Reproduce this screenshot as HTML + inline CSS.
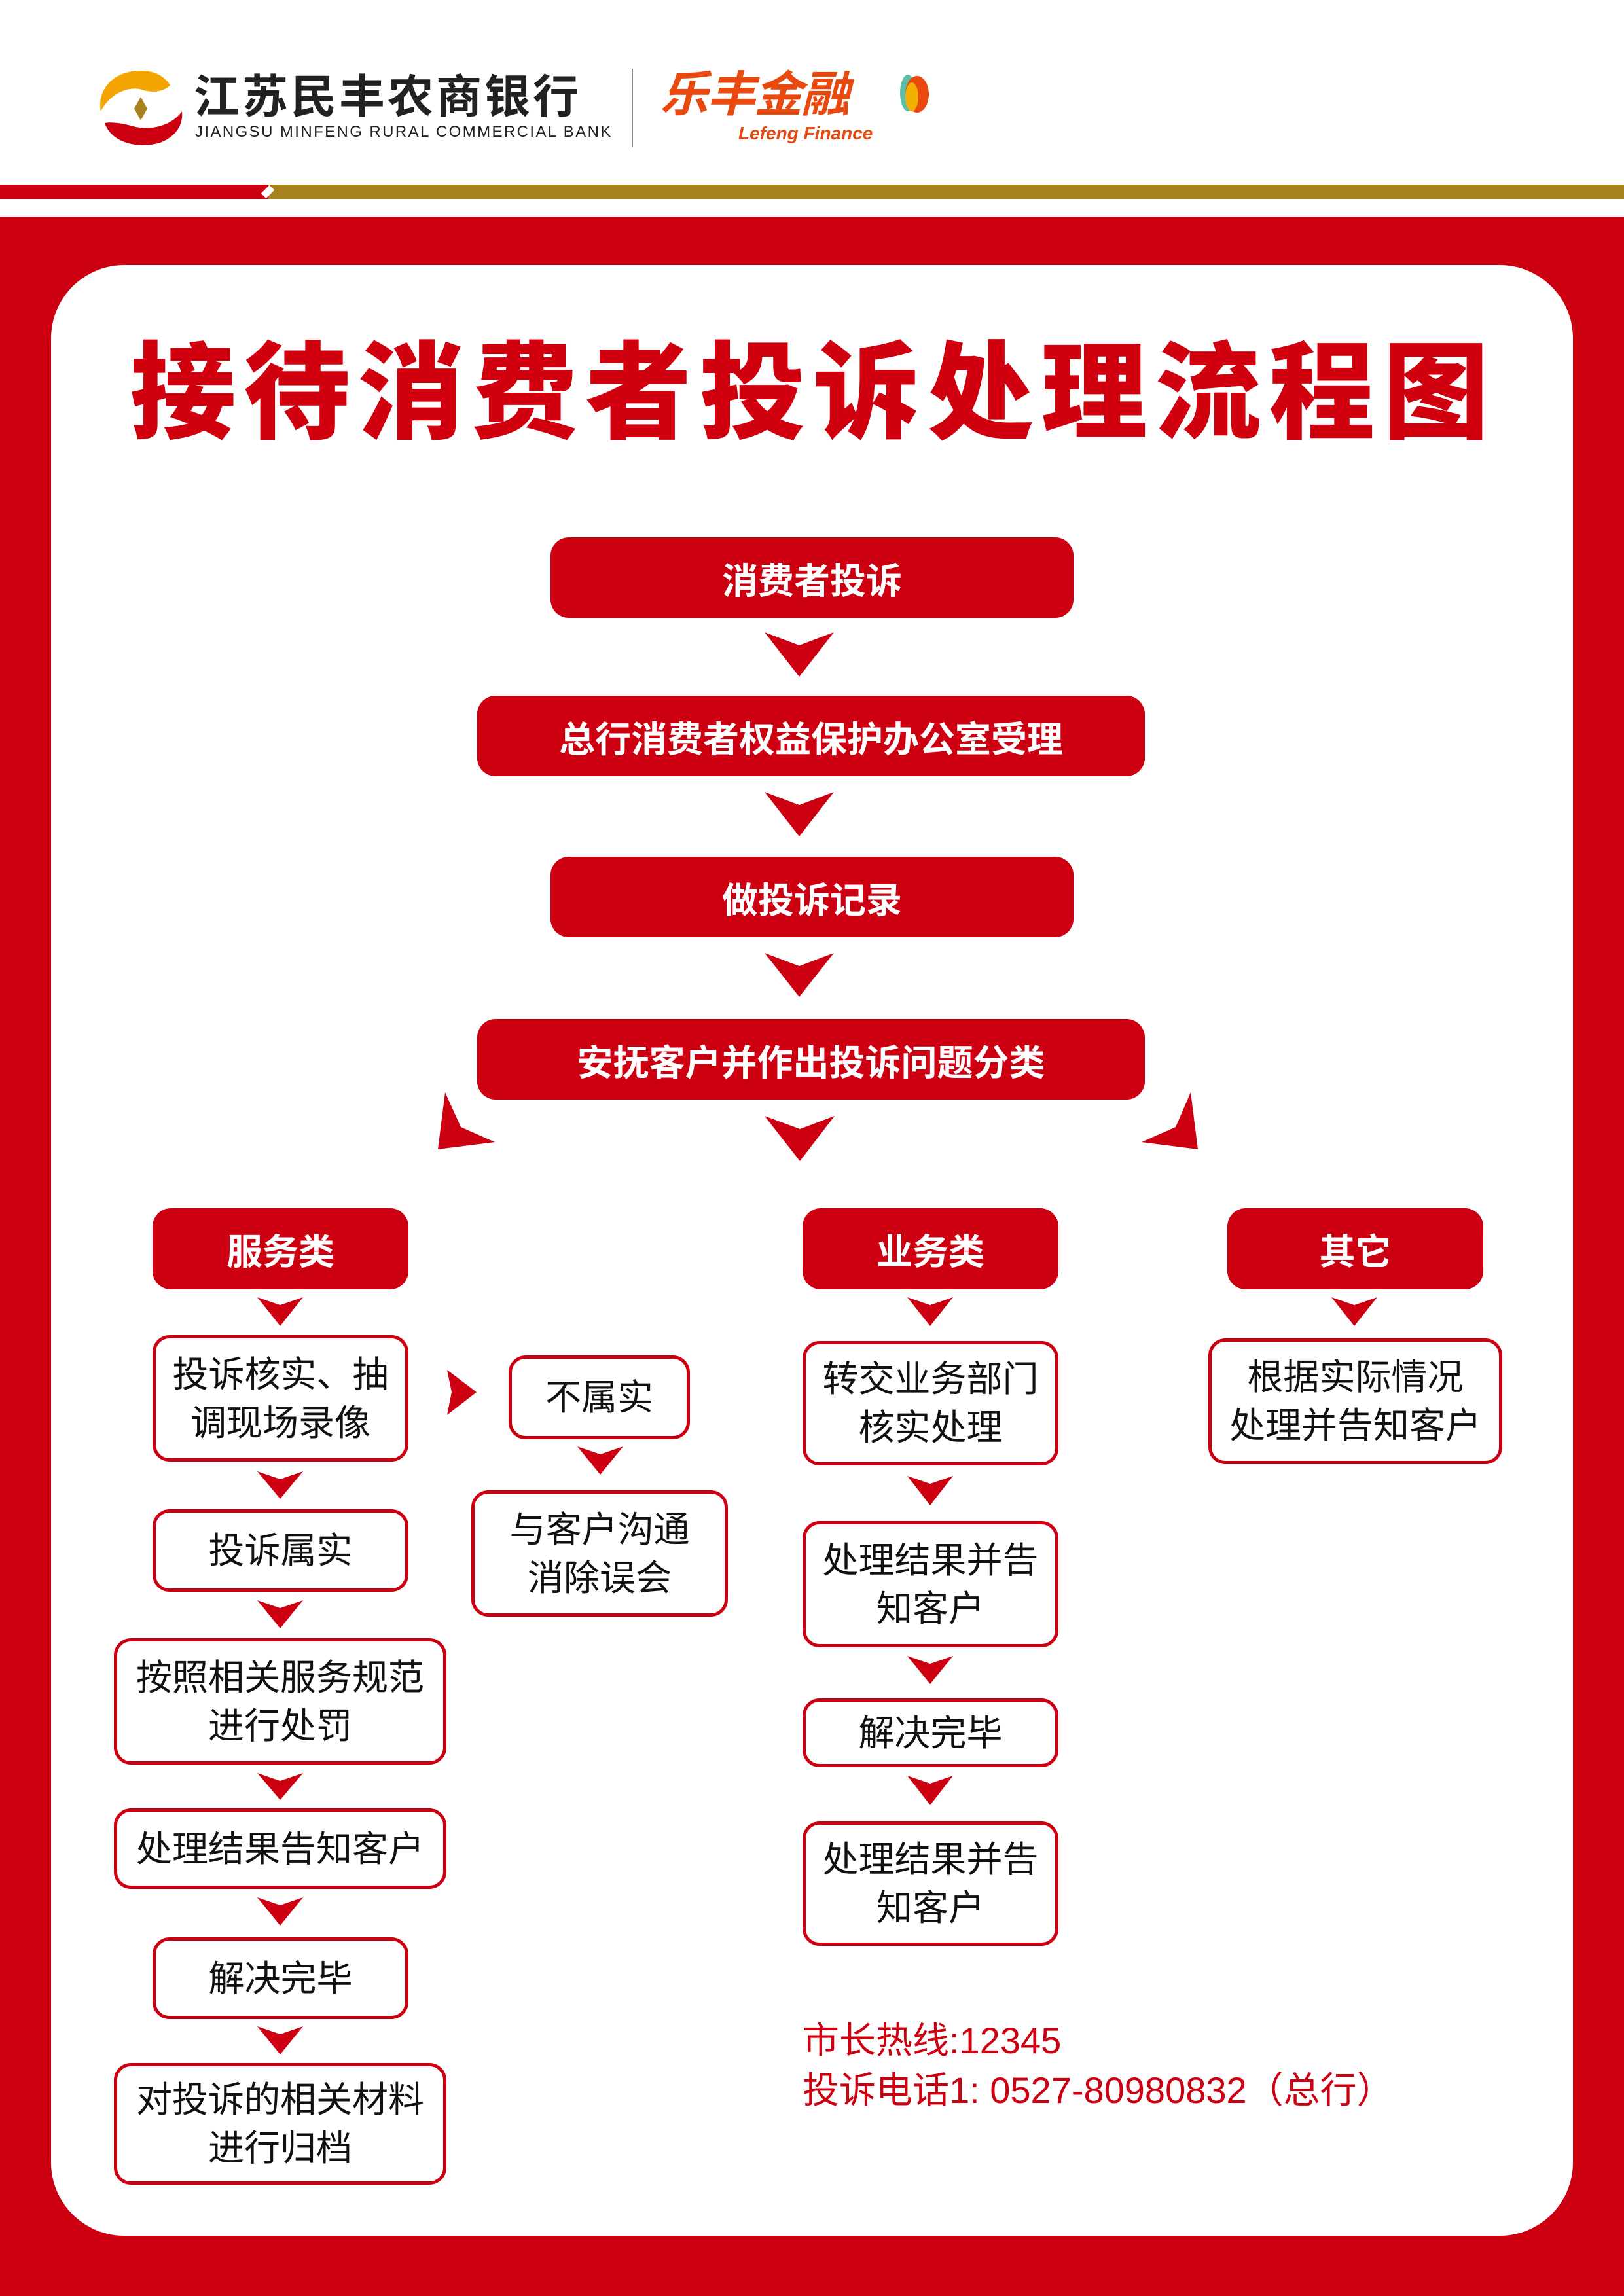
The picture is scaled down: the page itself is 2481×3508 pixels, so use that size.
<!DOCTYPE html>
<html><head><meta charset="utf-8"><style>
*{margin:0;padding:0;box-sizing:border-box}
body{width:2481px;height:3508px;position:relative;background:#fff;overflow:hidden;font-family:"Liberation Sans","Noto Sans CJK SC",sans-serif}
.a{position:absolute}
.f{position:absolute;background:#cc0011;border-radius:28px;color:#fff;font-weight:bold;font-size:55px;display:flex;align-items:center;justify-content:center;text-align:center}
.w{position:absolute;background:#fff;border:5px solid #cc0011;border-radius:26px;color:#111;font-size:55px;line-height:74px;display:flex;align-items:center;justify-content:center;text-align:center}
</style></head><body>
<!-- header -->
<svg class="a" style="left:140px;top:100px" width="150" height="130" viewBox="0 0 150 130">
<path d="M75 8 C30 8 8 40 14 70 C30 40 60 30 80 38 C95 42 110 40 120 30 C110 15 95 8 75 8Z" fill="#f3a400"/>
<path d="M20 88 C30 118 70 128 105 118 C130 108 140 90 138 70 C120 95 85 100 60 92 C45 88 30 86 20 88Z" fill="#cc0011"/>
<path d="M75 48 L85 66 L75 84 L65 66Z" fill="#a8821f"/>
</svg>
<div class="a" style="left:296px;top:104px;font-size:70px;color:#222;font-weight:bold;letter-spacing:4px;line-height:88px">江苏民丰农商银行</div>
<div class="a" style="left:298px;top:188px;font-size:24px;color:#222;letter-spacing:2.4px;white-space:nowrap">JIANGSU MINFENG RURAL COMMERCIAL BANK</div>
<div class="a" style="left:965px;top:105px;width:2px;height:120px;background:#888"></div>
<div class="a" style="left:1008px;top:100px;font-size:74px;color:#e8490f;font-weight:bold;font-style:italic;line-height:90px;letter-spacing:-2px">乐丰金融</div>
<div class="a" style="left:1128px;top:188px;font-size:28px;color:#e8490f;font-weight:bold;font-style:italic">Lefeng Finance</div>
<svg class="a" style="left:1365px;top:112px" width="60" height="62"><ellipse cx="22" cy="30" rx="12" ry="28" fill="#5dbfa8"/><ellipse cx="36" cy="32" rx="18" ry="28" fill="#e8490f"/><ellipse cx="28" cy="36" rx="10" ry="22" fill="#f3b000"/></svg>
<div class="a" style="left:0;top:282px;width:410px;height:22px;background:#cc0011"></div>
<div class="a" style="left:410px;top:282px;width:2071px;height:22px;background:#a8821f"></div>
<div class="a" style="left:400px;top:284px;width:18px;height:18px;background:#fff;transform:rotate(45deg) scale(0.6,1)"></div>
<div class="a" style="left:0;top:331px;width:2481px;height:3177px;background:#cc0011"></div>
<div class="a" style="left:78px;top:405px;width:2325px;height:3011px;background:#fff;border-radius:112px"></div>
<div class="a" style="left:180px;top:512px;width:2125px;text-align:center;font-size:162px;font-weight:900;color:#d0000f;letter-spacing:12px;line-height:180px;white-space:nowrap">接待消费者投诉处理流程图</div>

<div class="f" style="left:841px;top:821px;width:799px;height:123px">消费者投诉</div>
<div class="f" style="left:729px;top:1063px;width:1020px;height:123px">总行消费者权益保护办公室受理</div>
<div class="f" style="left:841px;top:1309px;width:799px;height:123px">做投诉记录</div>
<div class="f" style="left:729px;top:1557px;width:1020px;height:123px">安抚客户并作出投诉问题分类</div>

<div class="f" style="left:233px;top:1846px;width:391px;height:124px">服务类</div>
<div class="f" style="left:1226px;top:1846px;width:391px;height:124px">业务类</div>
<div class="f" style="left:1875px;top:1846px;width:391px;height:124px">其它</div>

<div class="w" style="left:233px;top:2040px;width:391px;height:193px">投诉核实、抽<br>调现场录像</div>
<div class="w" style="left:233px;top:2306px;width:391px;height:126px">投诉属实</div>
<div class="w" style="left:174px;top:2503px;width:508px;height:193px">按照相关服务规范<br>进行处罚</div>
<div class="w" style="left:174px;top:2763px;width:508px;height:123px">处理结果告知客户</div>
<div class="w" style="left:233px;top:2960px;width:391px;height:125px">解决完毕</div>
<div class="w" style="left:174px;top:3152px;width:508px;height:186px">对投诉的相关材料<br>进行归档</div>

<div class="w" style="left:777px;top:2071px;width:277px;height:128px">不属实</div>
<div class="w" style="left:720px;top:2277px;width:392px;height:193px">与客户沟通<br>消除误会</div>

<div class="w" style="left:1226px;top:2049px;width:391px;height:190px">转交业务部门<br>核实处理</div>
<div class="w" style="left:1226px;top:2324px;width:391px;height:193px">处理结果并告<br>知客户</div>
<div class="w" style="left:1226px;top:2595px;width:391px;height:105px">解决完毕</div>
<div class="w" style="left:1226px;top:2783px;width:391px;height:190px">处理结果并告<br>知客户</div>

<div class="w" style="left:1846px;top:2045px;width:449px;height:192px">根据实际情况<br>处理并告知客户</div>

<div class="a" style="left:1226px;top:3080px;font-size:56px;color:#cc0011;line-height:76px;white-space:nowrap">市长热线:12345<br>投诉电话1: 0527-80980832（总行）</div>

<svg class="a" style="left:0;top:0" width="2481" height="3508">
<g fill="#cc0011">
<polygon points="1168,966 1221,986 1274,966 1221,1034"/>
<polygon points="1168,1210 1221,1230 1274,1210 1221,1278"/>
<polygon points="1168,1456 1221,1476 1274,1456 1221,1523"/>
<polygon points="1168,1705 1222,1725 1275,1705 1222,1774"/>
<polygon points="680,1669 704,1722 756,1745 669,1756"/>
<polygon points="1819,1669 1796,1722 1744,1745 1830,1756"/>
<polygon points="393,1982 428,1994 463,1982 428,2026"/>
<polygon points="1386,1982 1421,1994 1456,1982 1421,2026"/>
<polygon points="2034,1982 2069,1994 2104,1982 2069,2026"/>
<polygon points="393,2248 428,2260 463,2248 428,2290"/>
<polygon points="393,2445 428,2457 463,2445 428,2488"/>
<polygon points="393,2709 428,2721 463,2709 428,2750"/>
<polygon points="393,2899 428,2911 463,2899 428,2942"/>
<polygon points="393,3096 428,3108 463,3096 428,3139"/>
<polygon points="882,2210 917,2222 952,2210 917,2253"/>
<polygon points="683,2093 728,2127 683,2162 690,2127"/>
<polygon points="1386,2255 1421,2267 1456,2255 1421,2300"/>
<polygon points="1386,2530 1421,2542 1456,2530 1421,2573"/>
<polygon points="1386,2713 1421,2725 1456,2713 1421,2758"/>
</g></svg>
</body></html>
